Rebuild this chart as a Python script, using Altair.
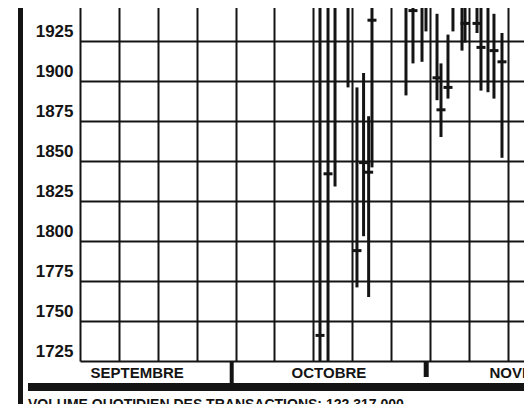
import altair as alt
import pandas as pd

# ---- data (x in weekly-grid units: 5 units per weekly cell) ----
day = [30.85, 31.88, 32.78, 34.45, 35.6, 36.45, 37.1, 37.53, 41.9, 42.8, 43.96, 44.47,
       45.89, 46.4, 47.3, 47.94, 49.1, 49.49, 51.03, 51.54, 52.44, 53.21, 54.24]
high = [2000, 2000, 2000, 2000, 1896, 1905, 1878, 2000, 2000, 2000, 2000, 2000,
        1942, 1911, 1929, 2000, 2000, 2000, 2000, 1949, 1949, 1942, 1930]
low = [1700, 1700, 1834, 1896, 1771, 1803, 1765, 1846, 1891, 1911, 1912, 1931,
       1888, 1865, 1889, 1931, 1919, 1924, 1930, 1894, 1893, 1889, 1852]
close = [1741, 1842, None, None, 1794, 1849, 1843, 1938, None, 1944, None, None,
         1902, 1882, 1896, None, None, 1936, 1936, 1921, None, 1919, 1912]

y_ticks = [1725, 1750, 1775, 1800, 1825, 1850, 1875, 1900, 1925, 1950]
grid_days = [0, 5, 10, 15, 20, 25, 30, 35, 40, 45, 50, 55]

months = ["SEPTEMBRE", "OCTOBRE", "NOVEMBRE"]
month_start = [-4.8, 19.5, 44.5]
month_end = [19.5, 44.5, 71.9]

caption = "VOLUME QUOTIDIEN DES TRANSACTIONS: 122 317 000"

# ---- chart ----
INK = "#141414"
FONT = "Liberation Sans"

bars = pd.DataFrame({"day": day, "high": high, "low": low, "close": close})
mdf = pd.DataFrame({"month": months, "start": month_start, "end": month_end})
one = alt.Data(values=[{"a": 1}])

X = alt.Scale(domain=[0, 57.07], nice=False, zero=False)
Y = alt.Scale(domain=[1725, 1950.625], nice=False, zero=False)

x_axis = alt.Axis(values=grid_days, grid=True, gridColor=INK, gridWidth=2, gridOpacity=1,
                  labels=False, ticks=False, domain=False, title=None)
y_axis = alt.Axis(values=y_ticks, grid=True, gridColor=INK, gridWidth=2, gridOpacity=1,
                  ticks=False, tickSize=0, domain=False, title=None,
                  labelFont=FONT, labelFontSize=17, labelFontWeight="bold", labelColor=INK,
                  labelBaseline="alphabetic", labelOffset=-5, labelPadding=7, format="d")

ranges = alt.Chart(bars).mark_rule(color=INK, strokeWidth=3, clip=True).encode(
    x=alt.X("day:Q", scale=X, axis=x_axis),
    y=alt.Y("low:Q", scale=Y, axis=y_axis),
    y2="high:Q",
)

ticks = alt.Chart(bars).transform_filter("datum.close != null").mark_tick(
    orient="horizontal", size=9, thickness=3, color=INK, opacity=1, clip=True
).encode(
    x=alt.X("day:Q", scale=X),
    y=alt.Y("close:Q", scale=Y),
)

left_bar = alt.Chart(one).mark_rule(color=INK, strokeWidth=5).encode(
    x=alt.value(-59.5), y=alt.value(0), y2=alt.value(420)
)

bottom_bar = alt.Chart(one).mark_rule(color=INK, strokeWidth=8).encode(
    x=alt.value(-52), x2=alt.value(470), y=alt.value(387)
)

month_text = alt.Chart(mdf).transform_calculate(
    mid="(datum.start + datum.end) / 2"
).mark_text(font=FONT, fontSize=15, fontWeight="bold", color=INK, align="center",
            baseline="alphabetic").encode(
    x=alt.X("mid:Q", scale=X), y=alt.value(378), text="month:N"
)

sep1 = alt.Chart(mdf).transform_filter("datum.month == 'OCTOBRE'").mark_rule(
    color=INK, strokeWidth=4).encode(
    x=alt.X("start:Q", scale=X), y=alt.value(361), y2=alt.value(383)
)
sep2 = alt.Chart(mdf).transform_filter("datum.month == 'NOVEMBRE'").mark_rule(
    color=INK, strokeWidth=5).encode(
    x=alt.X("start:Q", scale=X), y=alt.value(361), y2=alt.value(377)
)

cap = alt.Chart(one).mark_text(font=FONT, fontSize=14, fontWeight="bold", color=INK,
                               align="left", baseline="alphabetic").encode(
    x=alt.value(-52), y=alt.value(409), text=alt.value(caption)
)

chart = alt.layer(ranges, ticks, left_bar, bottom_bar, month_text, sep1, sep2, cap).properties(
    width=444, height=361,
    autosize=alt.AutoSizeParams(type="none"),
    padding={"left": 72, "top": -8, "right": 0, "bottom": 43},
    background="white",
).configure_view(stroke=None)

chart.save("out.html", embed_options={"renderer": "svg", "actions": False})
